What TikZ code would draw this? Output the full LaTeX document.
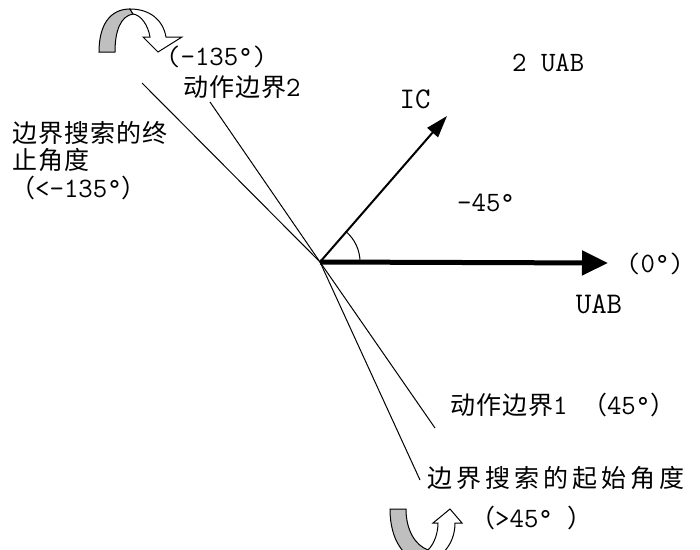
\documentclass[tikz,border=0pt]{standalone}
\usepackage{fontspec}
\newfontfamily\cjk{Noto Sans CJK SC}
\usetikzlibrary{arrows.meta}
\begin{document}
\begin{tikzpicture}[x=1pt,y=-1pt,
  lbl/.style={inner sep=0pt, anchor=west, font=\fontsize{28}{30}\selectfont\ttfamily},
  cjtext/.style={inner sep=0pt, anchor=west, font=\fontsize{25}{28}\selectfont\cjk\addfontfeature{LetterSpace=4}},
  cjwide/.style={inner sep=0pt, anchor=west, font=\fontsize{25}{28}\selectfont\cjk\addfontfeature{LetterSpace=16}},
  cjin/.style={font=\fontsize{25}{28}\selectfont\cjk\addfontfeature{LetterSpace=4}},
  bline/.style={line width=1pt, black},
  icon/.style={line width=1pt, black, line join=miter},
]
\fill[white] (0,0) rectangle (700,549);
\useasboundingbox (0,0) rectangle (700,549);
\clip (0,0) rectangle (700,549);

\coordinate (O) at (320,262);
\coordinate (Uend) at (608,263);
\coordinate (Iend) at (447,116);
\coordinate (L1) at (142,83);
\coordinate (L2) at (210,102);
\coordinate (L3) at (435,428);
\coordinate (L4) at (420,480);

% boundary lines
\draw[bline] (O) -- (L1);
\draw[bline] (O) -- (L2);
\draw[bline] (O) -- (L3);
\draw[bline] (O) -- (L4);

% vectors
\draw[line width=5pt, -{Triangle[length=26pt,width=24pt]}] (O) -- (Uend);
\draw[line width=2pt, -{Triangle[length=22pt,width=14pt]}] (O) -- (Iend);

% angle arc
\draw[bline] ([shift={(40pt,0pt)}]O) arc[start angle=0, end angle=50, radius=40pt];

% labels
\newcommand{\cjkin}[1]{{\fontsize{25}{28}\selectfont\cjk\addfontfeature{LetterSpace=4}#1}}
\node[lbl] (n135) at (166,57) {(-135°)};
\node[lbl] (b2) at (183,87) {\cjkin{动作边界}2};
\node[cjtext] (end1) at (12,133) {边界搜索的终};
\node[cjtext] (end2) at (12,160) {止角度};
\node[lbl] (end3) at (10,188) {\cjkin{（}<-135°\cjkin{）}};
\node[lbl, anchor=center, font=\fontsize{30}{32}\selectfont\ttfamily] (ic) at (415,99) {IC};
\node[lbl] (uab2) at (512,63) {2 UAB};
\node[lbl] (m45) at (457,203) {-45°};
\node[lbl] (zero) at (626,264) {(0°)};
\node[lbl, anchor=center, font=\fontsize{30}{32}\selectfont\ttfamily] (uab) at (599,304) {UAB};
\node[lbl] (b1) at (450,405) {\cjkin{动作边界}1 \cjkin{（}45°\cjkin{）}};
\node[cjwide] (start1) at (427,478) {边界搜索的起始角度};
\node[lbl] (start2) at (470,518) {\cjkin{（}>45° \cjkin{）}};

% top curved arrow icon
\filldraw[icon, fill=gray!50] (99,52) .. controls (99,25) and (110,9) .. (130,9)
  -- (133,14) .. controls (121,16) and (115,30) .. (115,52) -- cycle;
\filldraw[icon, fill=white] (130,9) .. controls (150,9) and (163,20) .. (166,37)
  -- (182,37) -- (158,52) -- (143,37) -- (150,37)
  .. controls (148,25) and (141,15) .. (133,14) -- cycle;

% bottom curved arrow icon
\filldraw[icon, fill=gray!50] (390,509) -- (406,509) .. controls (406,530) and (415,545) .. (428,550)
  -- (424,562) .. controls (404,560) and (390,540) .. (390,509) -- cycle;
\filldraw[icon, fill=white] (428,550) .. controls (435,543) and (438,532) .. (438,523)
  -- (433,523) -- (450,509) -- (462,523) -- (455,523)
  .. controls (455,545) and (440,560) .. (424,562) -- cycle;
\end{tikzpicture}
\end{document}
